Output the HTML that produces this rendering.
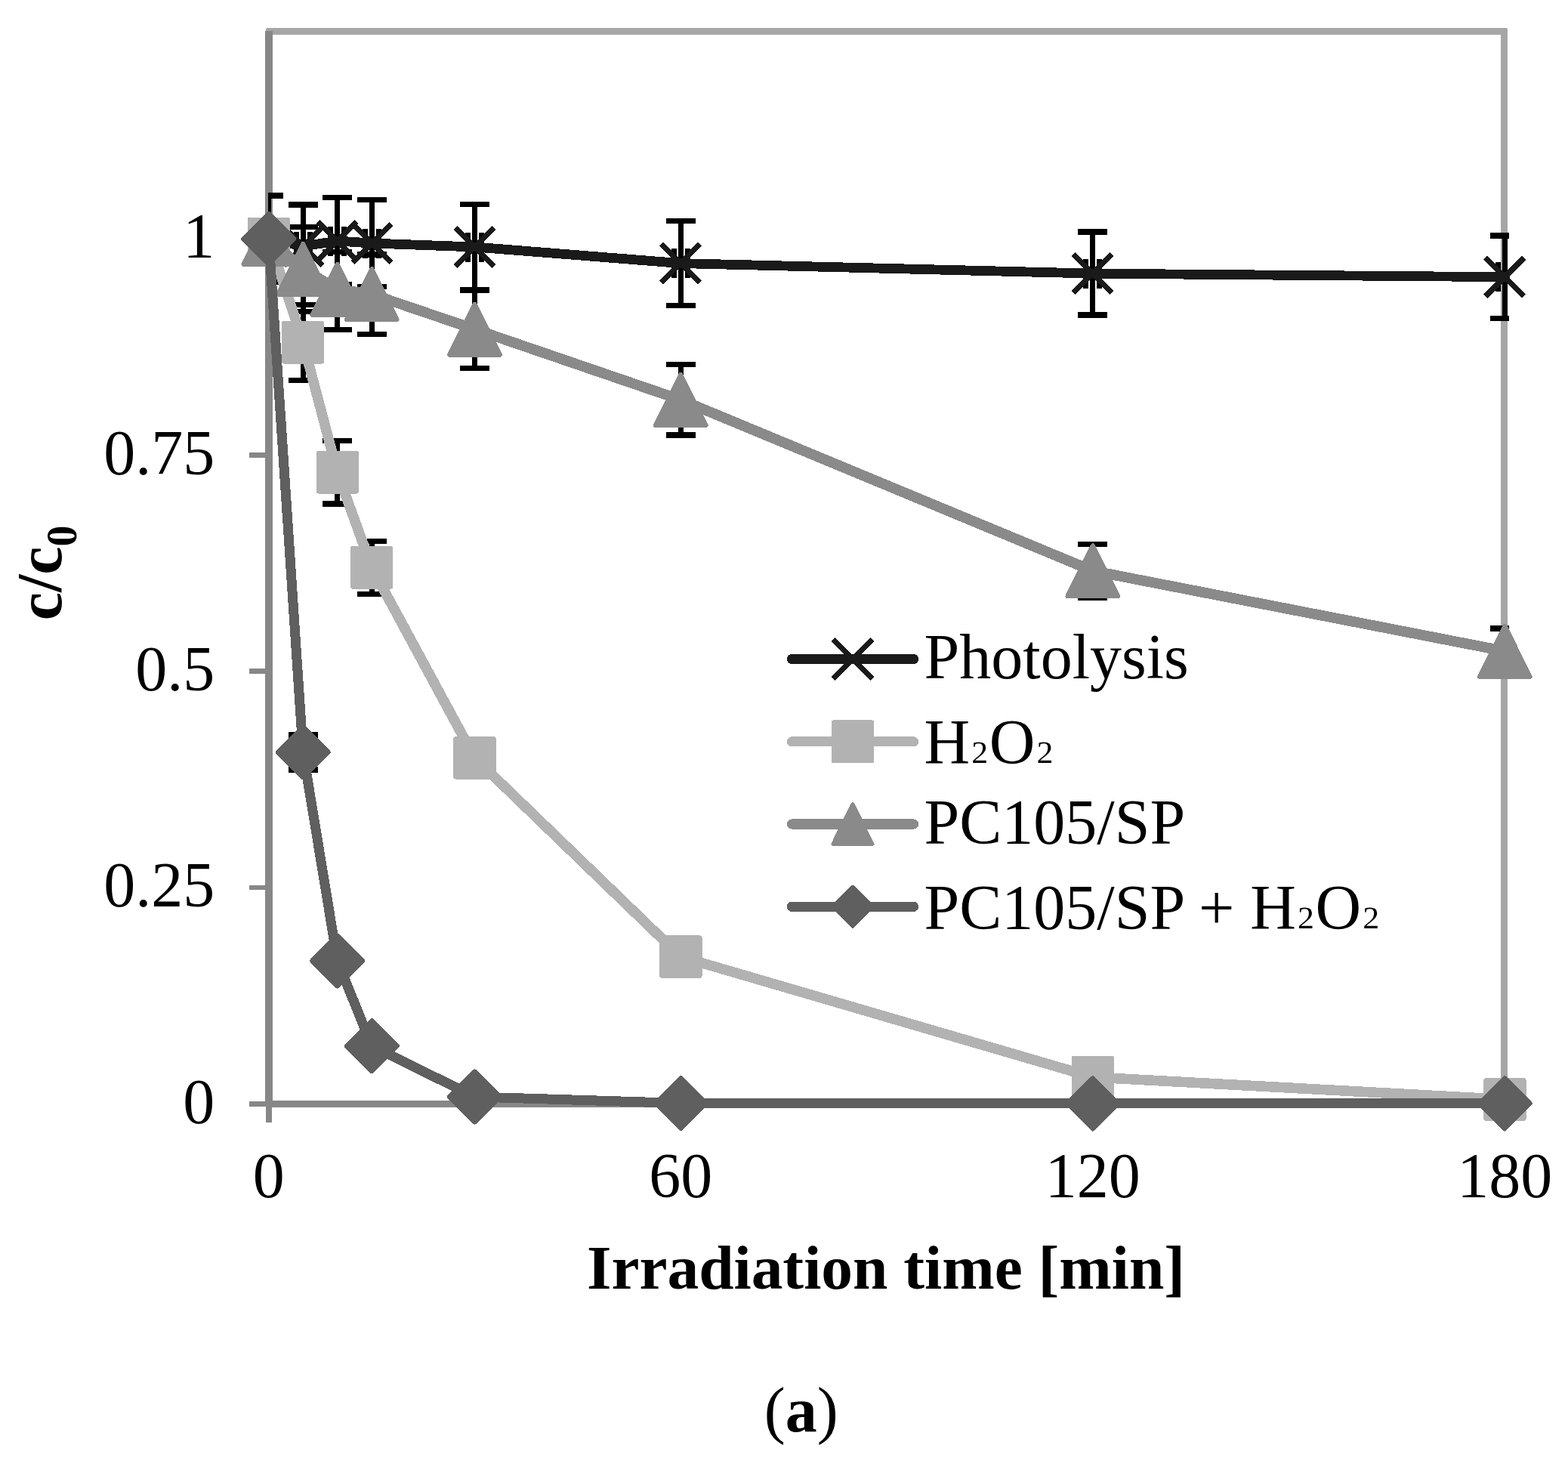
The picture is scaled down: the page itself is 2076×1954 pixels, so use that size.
<!DOCTYPE html>
<html lang="en"><head><meta charset="utf-8"><title>Figure (a)</title>
<style>
html,body{margin:0;padding:0;background:#ffffff;}
body{width:2076px;height:1954px;overflow:hidden;}
svg{display:block;}
path,polyline,rect{shape-rendering:crispEdges;}
text{font-family:"Liberation Serif","Times New Roman",serif;fill:#000;}
.t{font-size:84px;}
.b{font-weight:bold;}
</style></head><body>
<svg xmlns="http://www.w3.org/2000/svg" width="2076" height="1954" viewBox="0 0 2076 1954">
<rect x="0" y="0" width="2076" height="1954" fill="#ffffff"/>
<defs><clipPath id="plot"><rect x="355.0" y="0" width="1642.9" height="1954"/></clipPath></defs>
<path fill-rule="evenodd" fill="#a6a6a6" d="M353.80 37.10H1993.70Q1995.90 37.10 1995.90 39.30V1465.70H351.60V39.30Q351.60 37.10 353.80 37.10ZM360.40 45.90V1456.90H1987.10V45.90Z"/>
<path d="M355.8 40.7 V1461.30" fill="none" stroke="#878787" stroke-width="9.4"/>
<path d="M356 1461.30 V1485.80" fill="none" stroke="#878787" stroke-width="7.8"/>
<path d="M355.5 1461.30 H1995.9" fill="none" stroke="#878787" stroke-width="8.8"/>
<path d="M330.00 1461.40 H356" fill="none" stroke="#878787" stroke-width="6.8"/>
<path d="M330 1174.97 H356" stroke="#878787" stroke-width="6.8"/>
<path d="M330 888.65 H356" stroke="#878787" stroke-width="6.8"/>
<path d="M330 602.33 H356" stroke="#878787" stroke-width="6.8"/>
<path d="M330 316.00 H356" stroke="#878787" stroke-width="6.8"/>
<path d="M901.30 1461.30 V1485.80" stroke="#878787" stroke-width="7.8"/>
<path d="M1446.80 1461.30 V1485.80" stroke="#878787" stroke-width="7.8"/>
<path d="M1992.30 1461.30 V1485.80" stroke="#878787" stroke-width="7.8"/>
<g id="errorbars">
<path clip-path="url(#plot)" d="M355.80 259.00V373.30M336.30 259.00H375.30M336.30 373.30H375.30M346.80 316.00H364.80M346.80 296.50V335.50M364.80 296.50V335.50M401.26 271.00V377.00M381.76 271.00H420.76M381.76 377.00H420.76M392.26 326.00H410.26M392.26 306.50V345.50M410.26 306.50V345.50M446.72 261.40V376.50M427.22 261.40H466.22M427.22 376.50H466.22M437.72 319.00H455.72M437.72 299.50V338.50M455.72 299.50V338.50M492.18 264.50V379.50M472.68 264.50H511.68M472.68 379.50H511.68M483.18 322.00H501.18M483.18 302.50V341.50M501.18 302.50V341.50M628.55 270.10V384.00M609.05 270.10H648.05M609.05 384.00H648.05M619.55 327.00H637.55M619.55 307.50V346.50M637.55 307.50V346.50M901.30 292.50V404.70M881.80 292.50H920.80M881.80 404.70H920.80M892.30 348.60H910.30M892.30 329.10V368.10M910.30 329.10V368.10M1446.80 307.00V417.00M1427.30 307.00H1466.30M1427.30 417.00H1466.30M1437.80 362.10H1455.80M1437.80 342.60V381.60M1455.80 342.60V381.60M1992.30 312.00V421.60M1972.80 312.00H2011.80M1972.80 421.60H2011.80M1983.30 366.70H2001.30M1983.30 347.20V386.20" fill="none" stroke="#000000" stroke-width="7.2" stroke-linecap="butt"/>
<path clip-path="url(#plot)" d="M401.26 403.20V503.60M381.76 403.20H420.76M381.76 503.60H420.76M446.72 583.50V667.00M427.22 583.50H466.22M427.22 667.00H466.22M492.18 716.10V786.80M472.68 716.10H511.68M472.68 786.80H511.68" fill="none" stroke="#000000" stroke-width="7.2" stroke-linecap="butt"/>
<path clip-path="url(#plot)" d="M401.26 300.80V412.30M381.76 300.80H420.76M381.76 412.30H420.76M446.72 333.50V436.40M427.22 333.50H466.22M427.22 436.40H466.22M492.18 337.00V442.50M472.68 337.00H511.68M472.68 442.50H511.68M628.55 384.60V487.70M609.05 384.60H648.05M609.05 487.70H648.05M901.30 482.40V576.00M881.80 482.40H920.80M881.80 576.00H920.80M1446.80 720.50V791.10M1427.30 720.50H1466.30M1427.30 791.10H1466.30M1992.30 831.90V892.10M1972.80 831.90H2011.80M1972.80 892.10H2011.80" fill="none" stroke="#000000" stroke-width="7.2" stroke-linecap="butt"/>
<path clip-path="url(#plot)" d="M401.26 973.00V1019.00M381.76 973.00H420.76M381.76 1019.00H420.76" fill="none" stroke="#000000" stroke-width="7.2" stroke-linecap="butt"/>
</g>
<g id="s-photolysis">
<polyline points="355.80,316.00 401.26,326.00 446.72,319.00 492.18,322.00 628.55,327.00 901.30,348.60 1446.80,362.10 1992.30,366.70" fill="none" stroke="#1a1a1a" stroke-width="12.8" stroke-linejoin="round" stroke-linecap="round"/>
<path d="M330.30 290.50L381.30 341.50M330.30 341.50L381.30 290.50" stroke="#1a1a1a" stroke-width="7.2" stroke-linecap="butt" fill="none"/>
<path d="M375.76 300.50L426.76 351.50M375.76 351.50L426.76 300.50" stroke="#1a1a1a" stroke-width="7.2" stroke-linecap="butt" fill="none"/>
<path d="M421.22 293.50L472.22 344.50M421.22 344.50L472.22 293.50" stroke="#1a1a1a" stroke-width="7.2" stroke-linecap="butt" fill="none"/>
<path d="M466.68 296.50L517.67 347.50M466.68 347.50L517.67 296.50" stroke="#1a1a1a" stroke-width="7.2" stroke-linecap="butt" fill="none"/>
<path d="M603.05 301.50L654.05 352.50M603.05 352.50L654.05 301.50" stroke="#1a1a1a" stroke-width="7.2" stroke-linecap="butt" fill="none"/>
<path d="M875.80 323.10L926.80 374.10M875.80 374.10L926.80 323.10" stroke="#1a1a1a" stroke-width="7.2" stroke-linecap="butt" fill="none"/>
<path d="M1421.30 336.60L1472.30 387.60M1421.30 387.60L1472.30 336.60" stroke="#1a1a1a" stroke-width="7.2" stroke-linecap="butt" fill="none"/>
<path d="M1966.80 341.20L2017.80 392.20M1966.80 392.20L2017.80 341.20" stroke="#1a1a1a" stroke-width="7.2" stroke-linecap="butt" fill="none"/>
</g>
<g id="s-h2o2">
<polyline points="355.80,316.00 401.26,453.30 446.72,625.30 492.18,751.40 628.55,1003.40 901.30,1266.60 1446.80,1426.00 1992.30,1455.50" fill="none" stroke="#b2b2b2" stroke-width="13.6" stroke-linejoin="round" stroke-linecap="round"/>
<rect x="327.60" y="287.80" width="56.40" height="56.40" rx="3" fill="#b2b2b2"/>
<rect x="373.06" y="425.10" width="56.40" height="56.40" rx="3" fill="#b2b2b2"/>
<rect x="418.52" y="597.10" width="56.40" height="56.40" rx="3" fill="#b2b2b2"/>
<rect x="463.98" y="723.20" width="56.40" height="56.40" rx="3" fill="#b2b2b2"/>
<rect x="600.35" y="975.20" width="56.40" height="56.40" rx="3" fill="#b2b2b2"/>
<rect x="873.10" y="1238.40" width="56.40" height="56.40" rx="3" fill="#b2b2b2"/>
<rect x="1418.60" y="1397.80" width="56.40" height="56.40" rx="3" fill="#b2b2b2"/>
<rect x="1964.10" y="1427.30" width="56.40" height="56.40" rx="3" fill="#b2b2b2"/>
</g>
<g id="s-pc">
<polyline points="355.80,316.00 401.26,356.20 446.72,383.00 492.18,389.50 628.55,435.90 901.30,529.30 1446.80,755.70 1992.30,862.00" fill="none" stroke="#8a8a8a" stroke-width="13.8" stroke-linejoin="round" stroke-linecap="round"/>
<path d="M355.80 282.70L389.20 349.70H322.40Z" fill="#8a8a8a" stroke="#8a8a8a" stroke-width="6" stroke-linejoin="round"/>
<path d="M401.26 322.90L434.66 389.90H367.86Z" fill="#8a8a8a" stroke="#8a8a8a" stroke-width="6" stroke-linejoin="round"/>
<path d="M446.72 349.70L480.12 416.70H413.32Z" fill="#8a8a8a" stroke="#8a8a8a" stroke-width="6" stroke-linejoin="round"/>
<path d="M492.18 356.20L525.58 423.20H458.78Z" fill="#8a8a8a" stroke="#8a8a8a" stroke-width="6" stroke-linejoin="round"/>
<path d="M628.55 402.60L661.95 469.60H595.15Z" fill="#8a8a8a" stroke="#8a8a8a" stroke-width="6" stroke-linejoin="round"/>
<path d="M901.30 496.00L934.70 563.00H867.90Z" fill="#8a8a8a" stroke="#8a8a8a" stroke-width="6" stroke-linejoin="round"/>
<path d="M1446.80 722.40L1480.20 789.40H1413.40Z" fill="#8a8a8a" stroke="#8a8a8a" stroke-width="6" stroke-linejoin="round"/>
<path d="M1992.30 828.70L2025.70 895.70H1958.90Z" fill="#8a8a8a" stroke="#8a8a8a" stroke-width="6" stroke-linejoin="round"/>
</g>
<g id="s-pch">
<polyline points="355.80,316.30 401.26,996.00 446.72,1272.00 492.18,1384.60 628.55,1452.00 901.30,1460.50 1446.80,1460.90 1992.30,1460.90" fill="none" stroke="#5f5f5f" stroke-width="13.0" stroke-linejoin="round" stroke-linecap="round"/>
<path d="M355.80 282.80L389.30 316.30L355.80 349.80L322.30 316.30Z" fill="#5f5f5f" stroke="#5f5f5f" stroke-width="6" stroke-linejoin="round"/>
<path d="M401.26 962.50L434.76 996.00L401.26 1029.50L367.76 996.00Z" fill="#5f5f5f" stroke="#5f5f5f" stroke-width="6" stroke-linejoin="round"/>
<path d="M446.72 1238.50L480.22 1272.00L446.72 1305.50L413.22 1272.00Z" fill="#5f5f5f" stroke="#5f5f5f" stroke-width="6" stroke-linejoin="round"/>
<path d="M492.18 1351.10L525.67 1384.60L492.18 1418.10L458.68 1384.60Z" fill="#5f5f5f" stroke="#5f5f5f" stroke-width="6" stroke-linejoin="round"/>
<path d="M628.55 1418.50L662.05 1452.00L628.55 1485.50L595.05 1452.00Z" fill="#5f5f5f" stroke="#5f5f5f" stroke-width="6" stroke-linejoin="round"/>
<path d="M901.30 1427.00L934.80 1460.50L901.30 1494.00L867.80 1460.50Z" fill="#5f5f5f" stroke="#5f5f5f" stroke-width="6" stroke-linejoin="round"/>
<path d="M1446.80 1427.40L1480.30 1460.90L1446.80 1494.40L1413.30 1460.90Z" fill="#5f5f5f" stroke="#5f5f5f" stroke-width="6" stroke-linejoin="round"/>
<path d="M1992.30 1427.40L2025.80 1460.90L1992.30 1494.40L1958.80 1460.90Z" fill="#5f5f5f" stroke="#5f5f5f" stroke-width="6" stroke-linejoin="round"/>
</g>
<text class="t" x="284.2" y="1486.70" text-anchor="end">0</text>
<text class="t" x="284.2" y="1200.38" text-anchor="end">0.25</text>
<text class="t" x="284.2" y="914.05" text-anchor="end">0.5</text>
<text class="t" x="284.2" y="627.73" text-anchor="end">0.75</text>
<text class="t" x="284.2" y="341.40" text-anchor="end">1</text>
<text class="t" x="355.80" y="1584.5" text-anchor="middle">0</text>
<text class="t" x="901.30" y="1584.5" text-anchor="middle">60</text>
<text class="t" x="1446.80" y="1584.5" text-anchor="middle">120</text>
<text class="t" x="1992.30" y="1584.5" text-anchor="middle">180</text>
<text class="t b" x="1173.0" y="1705.6" text-anchor="middle" style="font-size:83.4px">Irradiation time [min]</text>
<text class="t b" transform="translate(81.2 758.4) rotate(-90)" text-anchor="middle">c/c<tspan font-size="56" dy="19.4">0</tspan></text>
<text class="t" x="1060.8" y="1895" text-anchor="middle">(<tspan class="b">a</tspan>)</text>
<g id="legend">
<path d="M1048.5 872.5H1209.5" stroke="#1a1a1a" stroke-width="13.3" stroke-linecap="round"/>
<path d="M1103.20 846.70L1154.80 898.30M1103.20 898.30L1154.80 846.70" stroke="#1a1a1a" stroke-width="7.2" stroke-linecap="butt" fill="none"/>
<text class="t" x="1223.6" y="898.0">Photolysis</text>
<path d="M1048.5 981.8H1209.5" stroke="#b2b2b2" stroke-width="13.3" stroke-linecap="round"/>
<rect x="1100.60" y="953.40" width="56.80" height="56.80" rx="3" fill="#b2b2b2"/>
<text class="t" x="1223.6" y="1011.0">H<tspan dy="-14.9" font-size="73">₂</tspan><tspan dy="14.9">O</tspan><tspan dy="-14.9" font-size="73">₂</tspan></text>
<path d="M1048.5 1091.0H1209.5" stroke="#8a8a8a" stroke-width="13.3" stroke-linecap="round"/>
<path d="M1129.00 1064.98L1155.10 1117.34H1102.90Z" fill="#8a8a8a" stroke="#8a8a8a" stroke-width="5" stroke-linejoin="round"/>
<text class="t" x="1223.6" y="1117.2">PC105/SP</text>
<path d="M1048.5 1200.3H1209.5" stroke="#5f5f5f" stroke-width="13.3" stroke-linecap="round"/>
<path d="M1129.00 1174.20L1155.10 1200.30L1129.00 1226.40L1102.90 1200.30Z" fill="#5f5f5f" stroke="#5f5f5f" stroke-width="5" stroke-linejoin="round"/>
<text class="t" x="1223.6" y="1230.0">PC105/SP + H<tspan dy="-14.9" font-size="73">₂</tspan><tspan dy="14.9">O</tspan><tspan dy="-14.9" font-size="73">₂</tspan></text>
</g>
</svg></body></html>
